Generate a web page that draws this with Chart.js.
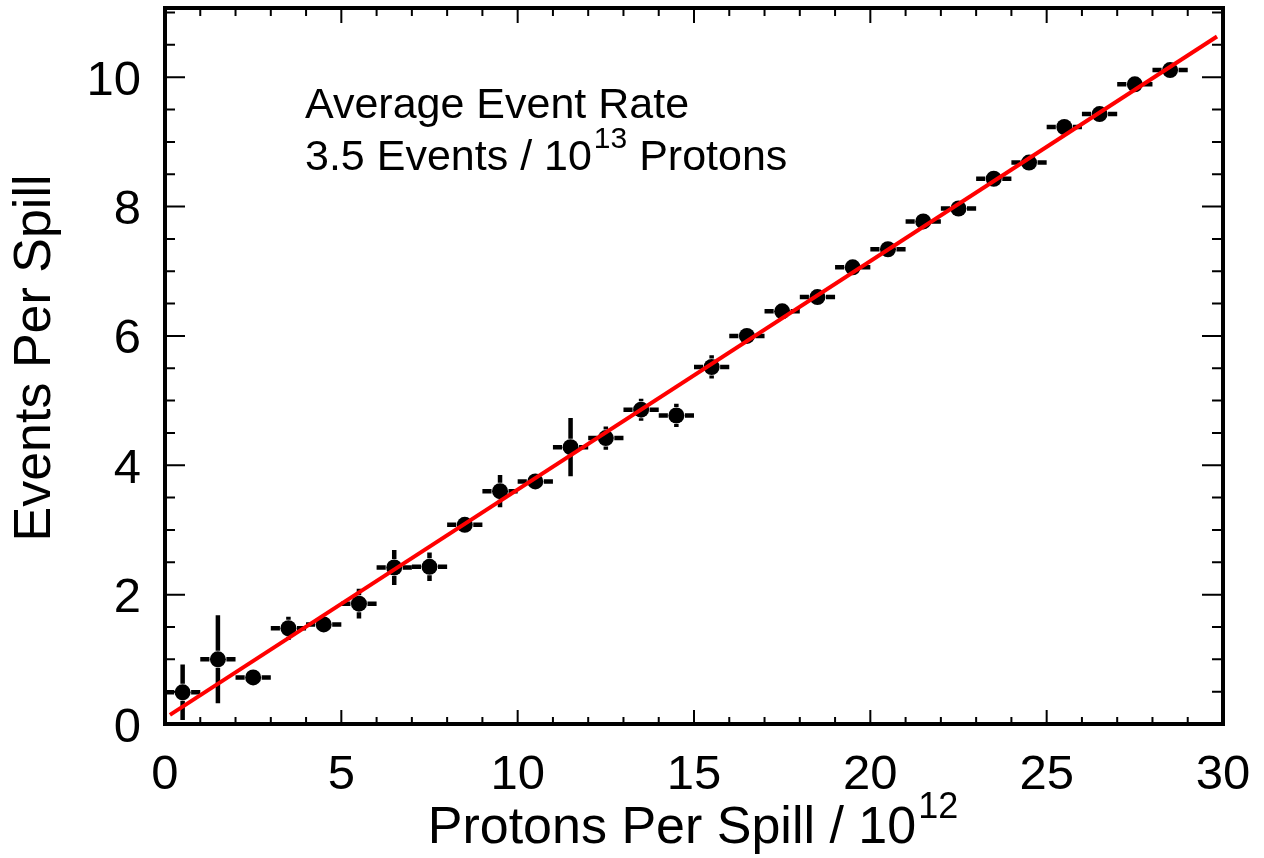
<!DOCTYPE html>
<html>
<head>
<meta charset="utf-8">
<script src="https://cdn.jsdelivr.net/npm/chart.js@4/dist/chart.umd.min.js"></script>
<style>
  html, body { margin: 0; padding: 0; background: #fff; }
  canvas { display: block; }
</style>
</head>
<body>
<canvas id="rate" width="1264" height="858"></canvas>
<script>
// measured bins, protons per spill / 10^12
const protons   = [0.5, 1.5, 2.5, 3.5, 4.5, 5.5, 6.5, 7.5, 8.5, 9.5, 10.5, 11.5, 12.5, 13.5, 14.5,
                   15.5, 16.5, 17.5, 18.5, 19.5, 20.5, 21.5, 22.5, 23.5, 24.5, 25.5, 26.5, 27.5, 28.5];
const protonErr = [0.5, 0.5, 0.5, 0.5, 0.5, 0.5, 0.5, 0.5, 0.5, 0.5, 0.5, 0.5, 0.5, 0.5, 0.5,
                   0.5, 0.5, 0.5, 0.5, 0.5, 0.5, 0.5, 0.5, 0.5, 0.5, 0.5, 0.5, 0.5, 0.5];
const events    = [0.49, 1.00, 0.72, 1.48, 1.54, 1.86, 2.42, 2.43, 3.08, 3.60, 3.75, 4.28, 4.42, 4.86, 4.77,
                   5.52, 6.00, 6.38, 6.60, 7.06, 7.34, 7.77, 7.97, 8.43, 8.68, 9.23, 9.43, 9.89, 10.11];
const eventErr  = [0.43, 0.68, 0.10, 0.18, 0.10, 0.23, 0.27, 0.22, 0.10, 0.25, 0.10, 0.45, 0.18, 0.17, 0.18,
                   0.18, 0.10, 0.10, 0.10, 0.10, 0.10, 0.10, 0.10, 0.10, 0.10, 0.10, 0.10, 0.10, 0.10];

// straight-line fit, end points
const fitX = [0.14, 29.83];
const fitY = [0.14, 10.63];

const xTicks = [0, 5, 10, 15, 20, 25, 30];
const yTicks = [0, 2, 4, 6, 8, 10];

const FONT = 'Liberation Sans, Arial, Helvetica, sans-serif';

// ROOT-style error bars: gap around the marker
const errorBars = {
  id: 'errorBars',
  beforeDatasetsDraw(chart) {
    const { ctx, scales: { x, y } } = chart;
    const gap = 8.5;
    ctx.save();
    ctx.strokeStyle = '#000';
    ctx.lineWidth = 4.5;
    ctx.lineCap = 'butt';
    protons.forEach((p, i) => {
      const px = x.getPixelForValue(p);
      const py = y.getPixelForValue(events[i]);
      const xl = x.getPixelForValue(p - protonErr[i]);
      const xr = x.getPixelForValue(p + protonErr[i]);
      const yt = y.getPixelForValue(events[i] + eventErr[i]);
      const yb = y.getPixelForValue(events[i] - eventErr[i]);
      ctx.beginPath();
      if (px - xl > gap) { ctx.moveTo(xl, py); ctx.lineTo(px - gap, py); }
      if (xr - px > gap) { ctx.moveTo(px + gap, py); ctx.lineTo(xr, py); }
      if (py - yt > gap) { ctx.moveTo(px, yt); ctx.lineTo(px, py - gap); }
      if (yb - py > gap) { ctx.moveTo(px, py + gap); ctx.lineTo(px, Math.min(yb, y.bottom)); }
      ctx.stroke();
    });
    ctx.restore();
  }
};

// frame, inward ticks on all four sides, titles and the text box
const frame = {
  id: 'frame',
  afterDraw(chart) {
    const { ctx, chartArea: a, scales: { x, y } } = chart;
    ctx.save();
    ctx.strokeStyle = '#000';

    ctx.lineWidth = 2;
    ctx.beginPath();
    for (let v = x.min; v <= x.max + 1e-6; v += 1) {
      const px = x.getPixelForValue(v);
      const major = Math.abs(v % 5) < 1e-6;
      ctx.moveTo(px, a.bottom); ctx.lineTo(px, a.bottom - (major ? 14 : 7));
      ctx.moveTo(px, a.top);    ctx.lineTo(px, a.top + (major ? 15 : 8));
    }
    for (let v = y.min; v <= y.max + 1e-6; v += 0.5) {
      const py = y.getPixelForValue(v);
      const major = Math.abs(v % 2) < 1e-6;
      ctx.moveTo(a.left, py);  ctx.lineTo(a.left + (major ? 20 : 10), py);
      ctx.moveTo(a.right, py); ctx.lineTo(a.right - (major ? 21 : 11), py);
    }
    ctx.stroke();

    ctx.lineWidth = 4;
    ctx.strokeRect(a.left, a.top, a.right - a.left, a.bottom - a.top);

    ctx.fillStyle = '#000';
    ctx.textBaseline = 'alphabetic';

    // y title
    ctx.save();
    ctx.translate(50, (a.top + a.bottom) / 2 - 8);
    ctx.rotate(-Math.PI / 2);
    ctx.font = `52px ${FONT}`;
    ctx.textAlign = 'center';
    ctx.fillText('Events Per Spill', 0, 0);
    ctx.restore();

    // x title with superscript
    ctx.textAlign = 'left';
    ctx.font = `52px ${FONT}`;
    const mainX = 'Protons Per Spill / 10';
    const wMain = ctx.measureText(mainX).width;
    ctx.font = `36px ${FONT}`;
    const wSup = ctx.measureText('12').width;
    const x0 = (a.left + a.right) / 2 - (wMain + wSup) / 2 - 2;
    ctx.font = `52px ${FONT}`;
    ctx.fillText(mainX, x0, 843);
    ctx.font = `36px ${FONT}`;
    ctx.fillText('12', x0 + wMain + 2, 818);

    // annotation
    const ax = 305;
    ctx.font = `43px ${FONT}`;
    ctx.fillText('Average Event Rate', ax, 118);
    const l2 = '3.5 Events / 10';
    ctx.fillText(l2, ax, 170);
    const w = ctx.measureText(l2).width;
    ctx.font = `30px ${FONT}`;
    ctx.fillText('13', ax + w + 2, 148);
    const ws = ctx.measureText('13').width;
    ctx.font = `43px ${FONT}`;
    ctx.fillText(' Protons', ax + w + ws + 2, 170);

    ctx.restore();
  }
};

const tickFont = { family: FONT, size: 49 };

new Chart(document.getElementById('rate'), {
  type: 'scatter',
  data: {
    datasets: [
      {
        type: 'line',
        data: fitX.map((v, i) => ({ x: v, y: fitY[i] })),
        borderColor: '#ff0000',
        borderWidth: 4,
        pointRadius: 0,
        fill: false,
        order: 0,
      },
      {
        data: protons.map((v, i) => ({ x: v, y: events[i] })),
        backgroundColor: '#000',
        borderColor: '#000',
        pointRadius: 8,
        pointBorderWidth: 0,
        order: 1,
      },
    ],
  },
  options: {
    responsive: false,
    animation: false,
    layout: { padding: { top: 5, right: 41, left: 0, bottom: 0 } },
    plugins: { legend: { display: false }, tooltip: { enabled: false } },
    scales: {
      x: {
        type: 'linear', min: 0, max: 30,
        grid: { display: false },
        border: { display: false },
        afterBuildTicks: s => { s.ticks = xTicks.map(v => ({ value: v })); },
        afterFit: s => { s.height = 134; s.paddingLeft = 0; s.paddingRight = 0; },
        ticks: { font: tickFont, color: '#000', padding: 14, maxRotation: 0, autoSkip: false },
      },
      y: {
        type: 'linear', min: 0, max: 11.07,
        grid: { display: false },
        border: { display: false },
        afterBuildTicks: s => { s.ticks = yTicks.map(v => ({ value: v })); },
        afterFit: s => { s.width = 165; s.paddingTop = 0; s.paddingBottom = 0; },
        ticks: { font: tickFont, color: '#000', padding: 16, labelOffset: 4, autoSkip: false },
      },
    },
  },
  plugins: [errorBars, frame],
});
</script>
</body>
</html>
